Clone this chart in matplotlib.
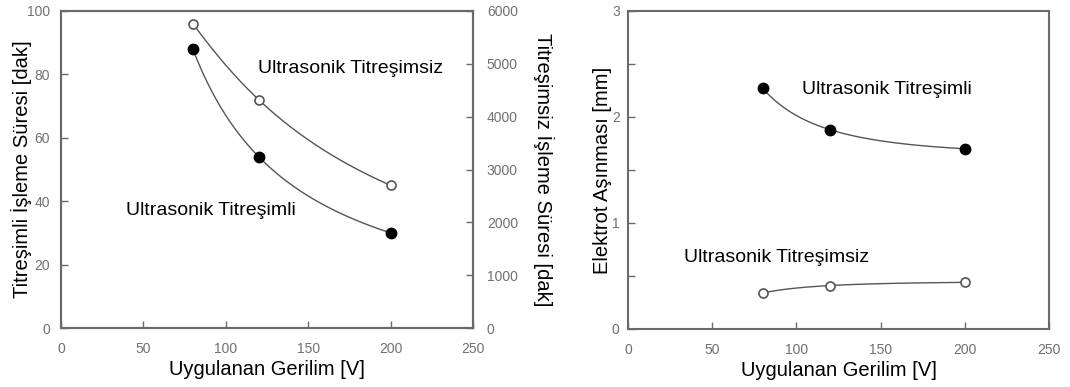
import numpy as np
import matplotlib
matplotlib.use("Agg")
import matplotlib.pyplot as plt

voltage = [80, 120, 200]
time_vib = [88, 54, 30]            # left axis [dak]
time_novib = [5760, 4320, 2700]    # right axis [dak]
wear_vib = [2.27, 1.88, 1.70]
wear_novib = [0.34, 0.41, 0.44]

plt.rcParams['font.family'] = ['Liberation Sans', 'DejaVu Sans']

SPINE = '#6a6a6a'
TICKC = '#707070'
LBL = 14.5
ANN = 14

fig = plt.figure(figsize=(10.7, 3.87), dpi=100)


def style(ax):
    for s in ax.spines.values():
        s.set_color(SPINE)
        s.set_linewidth(1.5)
    ax.tick_params(direction='in', length=5, width=1, color=SPINE,
                   labelsize=10, labelcolor=TICKC)
    ax.tick_params(axis='x', pad=10)


def smooth(ax, x, y):
    # smooth curve through the measured points (quadratic in 1/x)
    x = np.asarray(x, float)
    c = np.polyfit(1.0 / x, y, 2)
    xs = np.linspace(x.min(), x.max(), 300)
    ax.plot(xs, np.polyval(c, 1.0 / xs), color='#555555', lw=1)


# Left chart
ax1 = fig.add_axes([61 / 1070, 59 / 387, 412 / 1070, 317 / 387])
ax2 = ax1.twinx()
smooth(ax1, voltage, time_vib)
ax1.plot(voltage, time_vib, 'o', color='black', ms=7.5, zorder=5)
smooth(ax2, voltage, time_novib)
ax2.plot(voltage, time_novib, 'o', mfc='white', mec='#555555', mew=1.2, ms=6.5, zorder=5)
ax1.set_xlim(0, 250)
ax1.set_ylim(0, 100)
ax2.set_ylim(0, 6000)
ax1.set_xticks([0, 50, 100, 150, 200, 250])
ax1.set_yticks([0, 20, 40, 60, 80, 100])
ax2.set_yticks([0, 1000, 2000, 3000, 4000, 5000, 6000])
style(ax1)
style(ax2)
ax1.tick_params(axis='y', pad=8)
ax2.tick_params(axis='y', pad=10)
ax1.set_xlabel('Uygulanan Gerilim [V]', fontsize=LBL, labelpad=3)
ax1.set_ylabel('Titreşimli İşleme Süresi [dak]', fontsize=LBL, labelpad=-4)
ax2.set_ylabel('Titreşimsiz İşleme Süresi [dak]', fontsize=LBL, rotation=270, labelpad=26)
ax1.text(119.5, 82, 'Ultrasonik Titreşimsiz', fontsize=ANN, va='center')
ax1.text(39.5, 37.2, 'Ultrasonik Titreşimli', fontsize=ANN, va='center')

# Right chart
ax3 = fig.add_axes([628 / 1070, 58 / 387, 421 / 1070, 318 / 387])
smooth(ax3, voltage, wear_vib)
ax3.plot(voltage, wear_vib, 'o', color='black', ms=7.5, zorder=5)
smooth(ax3, voltage, wear_novib)
ax3.plot(voltage, wear_novib, 'o', mfc='white', mec='#555555', mew=1.2, ms=6.5, zorder=5)
ax3.set_xlim(0, 250)
ax3.set_ylim(0, 3)
ax3.set_xticks([0, 50, 100, 150, 200, 250])
ax3.set_yticks([0, 1, 2, 3])
ax3.set_yticks([0.5, 1.5, 2.5], minor=True)
style(ax3)
ax3.tick_params(which='minor', direction='in', length=5, width=1, color=SPINE)
ax3.tick_params(axis='y', pad=6)
ax3.set_xlabel('Uygulanan Gerilim [V]', fontsize=LBL, labelpad=3)
ax3.set_ylabel('Elektrot Aşınması [mm]', fontsize=LBL, labelpad=0)
ax3.text(103.3, 2.26, 'Ultrasonik Titreşimli', fontsize=ANN, va='center')
ax3.text(33.3, 0.67, 'Ultrasonik Titreşimsiz', fontsize=ANN, va='center')

fig.savefig('out.png', dpi=100)
